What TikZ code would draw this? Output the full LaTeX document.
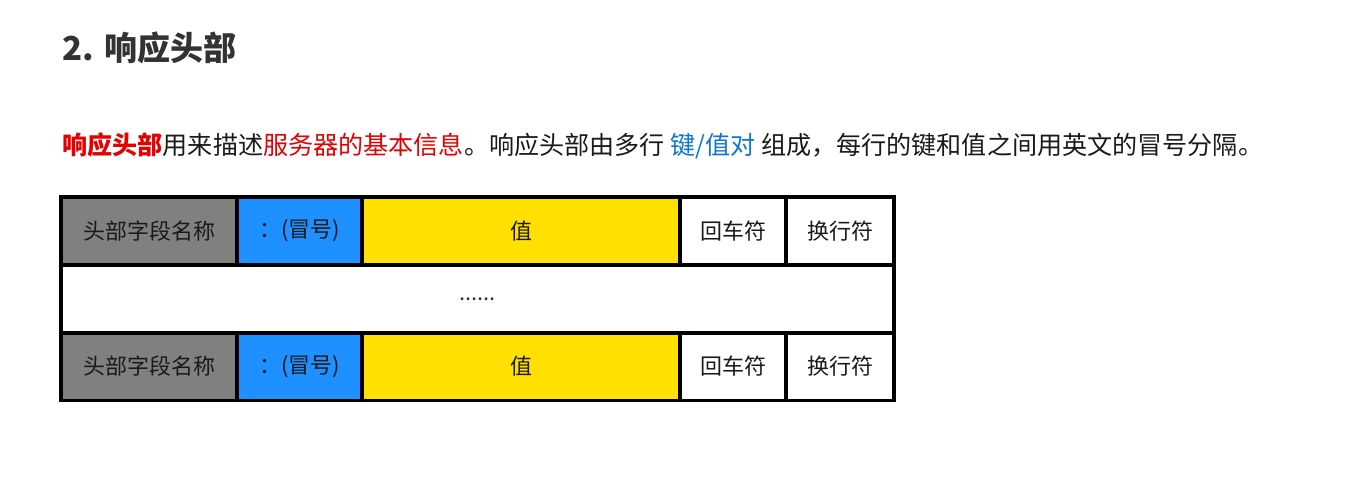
\documentclass[tikz,border=0pt]{standalone}
\usepackage{fontspec}
\setmainfont{Noto Sans CJK SC}
\usepackage{xcolor}
\usetikzlibrary{positioning}
\definecolor{ink}{HTML}{1A1A1A}
\definecolor{titlegray}{HTML}{333333}
\definecolor{keyred}{HTML}{E60000}
\definecolor{pairblue}{HTML}{0A78D2}
\definecolor{namegray}{HTML}{808080}
\definecolor{colonblue}{HTML}{1E90FF}
\definecolor{valyellow}{HTML}{FFE000}
\definecolor{dotgray}{HTML}{333333}
\tikzset{
  cell/.style={draw=black,line width=1.6pt,inner sep=0pt,
               align=center,text=ink,minimum height=34pt,
               font=\fontsize{11}{13}\selectfont},
  namecell/.style={cell,fill=namegray,minimum width=88pt},
  coloncell/.style={cell,fill=colonblue,minimum width=62.5pt},
  valuecell/.style={cell,fill=valyellow,minimum width=159pt},
  crcell/.style={cell,fill=white,minimum width=53pt},
  lfcell/.style={cell,fill=white,minimum width=54pt},
  gapcell/.style={cell,fill=white,minimum width=416.5pt,text=dotgray}
}

\begin{document}
\begin{tikzpicture}[x=0.5pt,y=-0.5pt]
  \useasboundingbox (0,0) rectangle (1348,486);

  \node[anchor=base west,inner sep=0pt,text=titlegray,
        font=\fontsize{16.5}{20}\selectfont\bfseries] (title) at (62,61)
    {2. 响应头部};
  \node[anchor=base west,inner sep=0pt,text=ink,
        font=\fontsize{12.55}{15}\selectfont] (intro) at (62,155)
    {\textcolor{keyred}{\bfseries 响应头部}用来描述\textcolor{keyred}{服务器的基本信息}。响应头部由多行 \textcolor{pairblue}{键/值对} 组成，每行的键和值之间用英文的冒号分隔。};

  % one header line per row, the middle row stands for the rest
  \foreach \row/\yc in {r1/231,r3/366.5} {
    \node[namecell]  (\row-name)  at (149,\yc)   {头部字段名称};
    \node[coloncell] (\row-colon) at (299.5,\yc) {：(冒号)};
    \node[valuecell] (\row-value) at (521,\yc)   {值};
    \node[crcell]    (\row-cr)    at (733,\yc)   {回车符};
    \node[lfcell]    (\row-lf)    at (840,\yc)   {换行符};
  }
  \node[gapcell] (gap) at (477.5,299) {\raisebox{-2pt}{......}};
\end{tikzpicture}
\end{document}
